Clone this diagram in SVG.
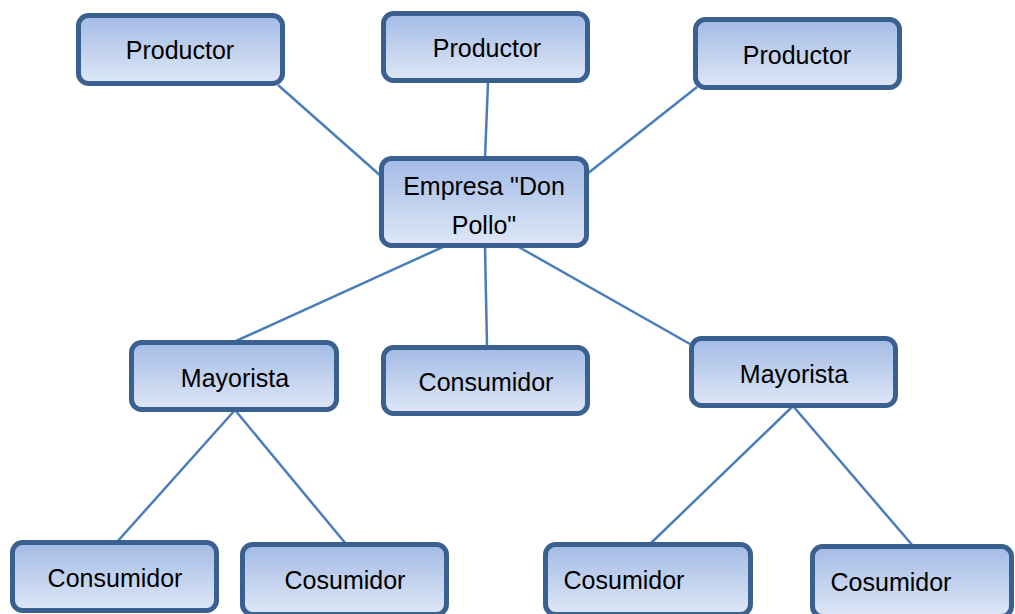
<svg xmlns="http://www.w3.org/2000/svg" width="1015" height="614" viewBox="0 0 1015 614">
<defs>
<linearGradient id="g" x1="0" y1="0" x2="0" y2="1">
<stop offset="0" stop-color="#A3BBE6"/>
<stop offset="1" stop-color="#DEE7F6"/>
</linearGradient>
<style>
.box{fill:url(#g);stroke:#3A6090;stroke-width:5}
.t{font-family:"Liberation Sans",Arial,sans-serif;font-size:25px;fill:#000;text-anchor:middle}
.c line{stroke:#4A7EBB;stroke-width:2.5}
</style>
</defs>
<rect width="1015" height="614" fill="#fff"/>
<g class="c" id="connectors">
<line x1="278" y1="85" x2="382" y2="177"/>
<line x1="488" y1="82" x2="485" y2="158"/>
<line x1="697" y1="87" x2="587" y2="174"/>
<line x1="445" y1="246" x2="236" y2="341"/>
<line x1="485" y1="246" x2="487" y2="346"/>
<line x1="517" y1="246" x2="690" y2="344"/>
<line x1="235" y1="410" x2="117" y2="542"/>
<line x1="235" y1="410" x2="346" y2="544"/>
<line x1="793" y1="406" x2="650" y2="544"/>
<line x1="793" y1="406" x2="913" y2="546"/>
</g>
<g id="p1"><rect class="box" x="78.5" y="15.5" width="204" height="68" rx="10"/><text class="t" x="180" y="59">Productor</text></g>
<g id="p2"><rect class="box" x="383.5" y="13.5" width="204" height="67" rx="10"/><text class="t" x="487" y="57">Productor</text></g>
<g id="p3"><rect class="box" x="695.5" y="19.5" width="204" height="68" rx="10"/><text class="t" x="797" y="64">Productor</text></g>
<g id="empresa"><rect class="box" x="381.5" y="158.5" width="205" height="87" rx="10"/><text class="t" x="484" y="195">Empresa "Don</text><text class="t" x="484" y="234">Pollo"</text></g>
<g id="may1"><rect class="box" x="131.5" y="342.5" width="205" height="67" rx="10"/><text class="t" x="235" y="387">Mayorista</text></g>
<g id="cons-mid"><rect class="box" x="383.5" y="347.5" width="204" height="66" rx="10"/><text class="t" x="486" y="391">Consumidor</text></g>
<g id="may2"><rect class="box" x="691.5" y="338.5" width="204" height="67" rx="10"/><text class="t" x="794" y="383">Mayorista</text></g>
<g id="cons-bl"><rect class="box" x="12.5" y="542.5" width="204" height="68" rx="10"/><text class="t" x="115" y="587">Consumidor</text></g>
<g id="cos1"><rect class="box" x="242.5" y="544.5" width="204" height="70" rx="10"/><text class="t" x="345" y="589">Cosumidor</text></g>
<g id="cos2"><rect class="box" x="545.5" y="544.5" width="205" height="70" rx="10"/><text class="t" x="624" y="589">Cosumidor</text></g>
<g id="cos3"><rect class="box" x="812.5" y="546.5" width="199" height="70" rx="10"/><text class="t" x="891" y="591">Cosumidor</text></g>
</svg>
